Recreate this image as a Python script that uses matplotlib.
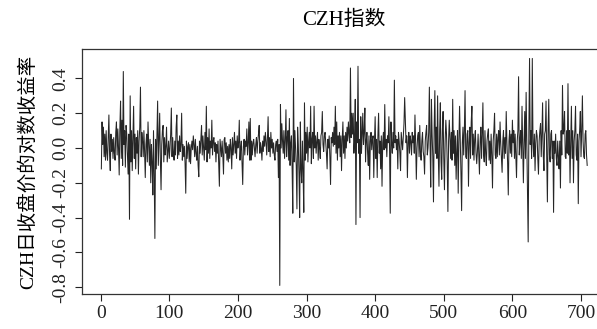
import matplotlib
matplotlib.use("Agg")
import matplotlib.pyplot as plt
import numpy as np

plt.rcParams['font.family'] = ['Liberation Serif', 'Noto Sans CJK SC']
plt.rcParams['axes.unicode_minus'] = False

# daily log returns, one line per 10 trading days
returns = [
    -0.12, 0.15, 0.02, 0.12, -0.05, 0.08, -0.07, 0.10, -0.03, -0.07,
    0.06, 0.19, -0.04, -0.13, 0.08, -0.02, 0.05, -0.06, 0.06, -0.03,
    -0.07, 0.09, 0.15, -0.04, 0.11, 0.00, -0.155, 0.12, 0.27, -0.06,
    0.16, -0.10, 0.44, 0.02, 0.10, -0.11, 0.13, 0.08, -0.04, -0.15,
    0.08, -0.41, 0.30, -0.08, 0.10, -0.13, 0.05, 0.24, -0.06, 0.08,
    -0.12, 0.06, -0.03, 0.10, -0.15, 0.04, 0.12, 0.35, -0.05, 0.09,
    0.04, -0.05, 0.10, -0.02, -0.17, 0.02, 0.08, -0.08, 0.15, 0.02,
    -0.10, 0.05, -0.20, 0.02, -0.08, -0.27, 0.10, -0.15, -0.52, 0.05,
    -0.12, 0.08, 0.27, -0.10, 0.05, 0.20, -0.07, -0.24, 0.02, 0.10,
    0.13, -0.08, 0.06, -0.04, 0.01, 0.12, -0.08, -0.02, 0.04, -0.06,
    0.00, 0.08, 0.23, -0.05, 0.06, -0.03, -0.07, 0.04, -0.04, 0.12,
    0.19, -0.06, 0.04, -0.04, 0.07, -0.02, 0.02, 0.20, -0.07, 0.02,
    -0.05, 0.01, -0.09, -0.26, 0.04, -0.06, 0.01, 0.03, -0.08, 0.02,
    -0.09, 0.00, 0.04, -0.01, 0.07, 0.02, -0.05, 0.05, -0.03, -0.07,
    0.01, -0.10, -0.165, 0.04, -0.03, 0.05, 0.13, -0.04, 0.07, 0.00,
    -0.07, 0.09, -0.01, 0.24, -0.08, 0.06, -0.03, 0.11, -0.06, 0.04,
    0.00, 0.16, -0.04, 0.04, 0.06, -0.02, 0.03, -0.08, 0.02, -0.03,
    0.04, -0.09, -0.22, 0.05, 0.00, -0.05, 0.04, -0.04, -0.15, 0.05,
    0.06, -0.03, 0.03, -0.07, 0.01, -0.08, 0.02, -0.06, 0.05, 0.00,
    -0.12, 0.06, -0.04, 0.02, 0.09, -0.03, 0.04, -0.06, 0.07, 0.00,
    0.03, 0.16, -0.07, 0.00, 0.04, -0.09, -0.21, 0.01, 0.05, -0.04,
    0.04, 0.01, 0.11, -0.04, 0.03, 0.15, -0.07, 0.17, -0.07, 0.04,
    -0.04, 0.03, 0.05, 0.00, -0.05, 0.02, 0.06, -0.03, 0.04, 0.08,
    0.13, -0.03, 0.03, 0.00, -0.07, 0.04, -0.02, 0.07, 0.01, 0.09,
    0.04, -0.04, 0.05, 0.18, -0.02, 0.06, -0.05, 0.09, 0.00, 0.05,
    -0.03, 0.03, -0.04, -0.07, 0.02, 0.04, -0.02, 0.05, -0.17, 0.02,
    -0.79, 0.25, 0.00, 0.14, 0.04, -0.03, 0.10, -0.06, 0.04, 0.22,
    -0.05, 0.06, 0.10, -0.07, 0.17, -0.10, 0.03, 0.07, -0.12, -0.375,
    0.40, -0.08, 0.10, 0.00, -0.10, -0.35, 0.12, 0.02, -0.15, -0.40,
    0.15, -0.12, -0.20, 0.04, -0.14, -0.37, 0.26, -0.07, 0.09, -0.03,
    0.12, -0.08, 0.04, 0.09, 0.00, 0.24, -0.09, 0.05, 0.09, -0.06,
    0.24, 0.00, 0.07, -0.03, 0.04, 0.09, -0.07, 0.05, 0.00, -0.06,
    0.07, 0.09, 0.21, 0.02, -0.02, 0.07, 0.09, 0.03, -0.03, -0.12,
    0.05, 0.00, 0.07, -0.05, -0.21, 0.06, 0.03, 0.09, 0.01, 0.12,
    0.02, 0.24, -0.03, 0.15, -0.07, 0.07, 0.00, 0.09, -0.05, 0.07,
    -0.13, 0.05, 0.15, -0.03, 0.07, -0.06, 0.09, 0.00, 0.12, 0.04,
    0.15, 0.08, 0.03, 0.46, 0.06, 0.20, 0.08, 0.20, -0.03, 0.04,
    0.28, -0.44, 0.15, 0.03, 0.47, -0.03, 0.05, -0.40, 0.18, -0.03,
    0.07, 0.20, 0.02, 0.09, 0.23, -0.08, 0.04, 0.09, -0.03, -0.10,
    0.07, -0.18, 0.04, 0.09, -0.01, 0.05, 0.07, -0.17, 0.04, 0.18,
    -0.06, 0.05, -0.17, 0.07, 0.20, -0.03, 0.04, -0.12, 0.07, -0.22,
    0.03, 0.09, -0.01, 0.25, 0.00, 0.05, -0.05, 0.07, 0.03, 0.18,
    0.00, -0.375, 0.15, 0.03, -0.03, 0.09, 0.00, 0.39, 0.03, 0.07,
    -0.01, 0.05, -0.12, 0.09, 0.04, -0.03, -0.13, 0.09, 0.04, -0.01,
    0.07, 0.14, 0.29, 0.15, 0.03, 0.07, -0.17, 0.03, 0.09, -0.03,
    0.07, 0.04, -0.04, 0.09, 0.03, 0.07, -0.03, 0.19, 0.03, -0.18,
    0.00, 0.07, 0.09, -0.05, 0.13, -0.03, -0.07, 0.04, 0.09, -0.02,
    -0.05, -0.15, 0.04, 0.09, 0.13, -0.04, 0.00, 0.09, 0.35, 0.02,
    -0.225, 0.28, 0.08, -0.05, -0.31, 0.12, 0.33, -0.03, 0.12, -0.06,
    0.30, -0.04, -0.22, 0.10, 0.26, -0.08, -0.18, 0.10, 0.21, -0.06,
    -0.24, 0.04, 0.16, 0.08, -0.08, -0.365, 0.04, 0.16, 0.06, -0.06,
    0.09, -0.07, 0.28, -0.03, 0.10, -0.10, 0.07, -0.18, -0.02, 0.10,
    -0.26, 0.03, 0.24, 0.06, -0.14, -0.36, 0.03, 0.12, -0.04, 0.10,
    0.33, -0.05, -0.06, 0.08, 0.10, -0.22, 0.03, 0.12, -0.06, 0.15,
    0.24, -0.04, 0.08, -0.07, 0.05, 0.10, -0.03, -0.09, -0.02, 0.08,
    -0.04, -0.15, 0.04, 0.12, -0.06, 0.08, 0.26, -0.04, -0.08, 0.10,
    -0.03, -0.10, 0.04, 0.08, 0.11, -0.07, 0.04, -0.09, 0.08, -0.04,
    -0.23, 0.04, 0.10, 0.20, -0.04, -0.06, 0.08, -0.05, 0.06, 0.10,
    -0.04, 0.15, 0.03, -0.06, -0.14, 0.04, 0.10, -0.06, 0.06, -0.03,
    0.21, 0.03, -0.08, -0.27, 0.04, 0.10, -0.03, 0.08, -0.05, 0.16,
    0.03, 0.10, -0.06, 0.08, -0.04, -0.17, 0.04, 0.10, 0.41, -0.04,
    0.04, 0.10, -0.06, 0.24, 0.03, -0.20, 0.03, 0.21, -0.06, 0.32,
    0.03, -0.29, -0.54, 0.10, 0.515, 0.02, 0.10, -0.06, 0.515, 0.03,
    -0.05, 0.08, -0.13, 0.03, 0.10, 0.07, -0.06, -0.15, 0.04, 0.10,
    0.14, -0.05, 0.08, 0.26, -0.04, -0.13, 0.08, 0.10, 0.27, -0.05,
    -0.31, 0.10, 0.28, -0.04, -0.08, 0.08, 0.10, -0.06, 0.04, -0.37,
    0.04, -0.03, 0.08, -0.06, -0.10, 0.04, -0.05, -0.12, 0.04, -0.23,
    0.10, -0.04, 0.36, 0.08, 0.10, 0.21, -0.05, -0.06, 0.10, -0.03,
    0.37, -0.04, 0.10, -0.20, 0.04, 0.24, -0.06, 0.10, -0.20, 0.04,
    0.10, 0.24, -0.04, -0.07, 0.08, -0.32, 0.04, 0.10, 0.21, -0.05,
    0.10, 0.30, 0.04, -0.05, -0.06, 0.08, 0.10, -0.04, -0.10,
]
days = np.arange(1, len(returns) + 1)

x_ticks = [0, 100, 200, 300, 400, 500, 600, 700]
y_ticks = [-0.8, -0.6, -0.4, -0.2, 0.0, 0.2, 0.4]

fig = plt.figure(figsize=(5.97, 3.29), dpi=100)
# the R plot box runs past the right edge of the picture
ax = fig.add_axes([82 / 597, 34.7 / 329, 524 / 597, 245.6 / 329])
ax.plot(days, returns, color='#262626', linewidth=0.75)

ax.set_xlim(-27.2, 736.4)
ax.set_ylim(-0.841, 0.571)
ax.set_xticks(x_ticks)
ax.set_yticks(y_ticks)
ax.set_yticklabels([f"{v:.1f}" for v in y_ticks], rotation=90, va='center')
ax.tick_params(axis='both', direction='out', length=5, width=0.8,
               labelsize=14, colors='#222222')
ax.tick_params(axis='x', pad=3)
ax.tick_params(axis='y', pad=4)
for s in ax.spines.values():
    s.set_linewidth(0.9)
    s.set_color('#333333')

ax.set_ylabel('CZH日收盘价的对数收益率', fontsize=14, labelpad=11)
fig.text(0.5 * (82 + 606) / 597, 1 - 20 / 329, 'CZH指数',
         ha='center', va='center', fontsize=15)

fig.savefig('out.png', dpi=100)
